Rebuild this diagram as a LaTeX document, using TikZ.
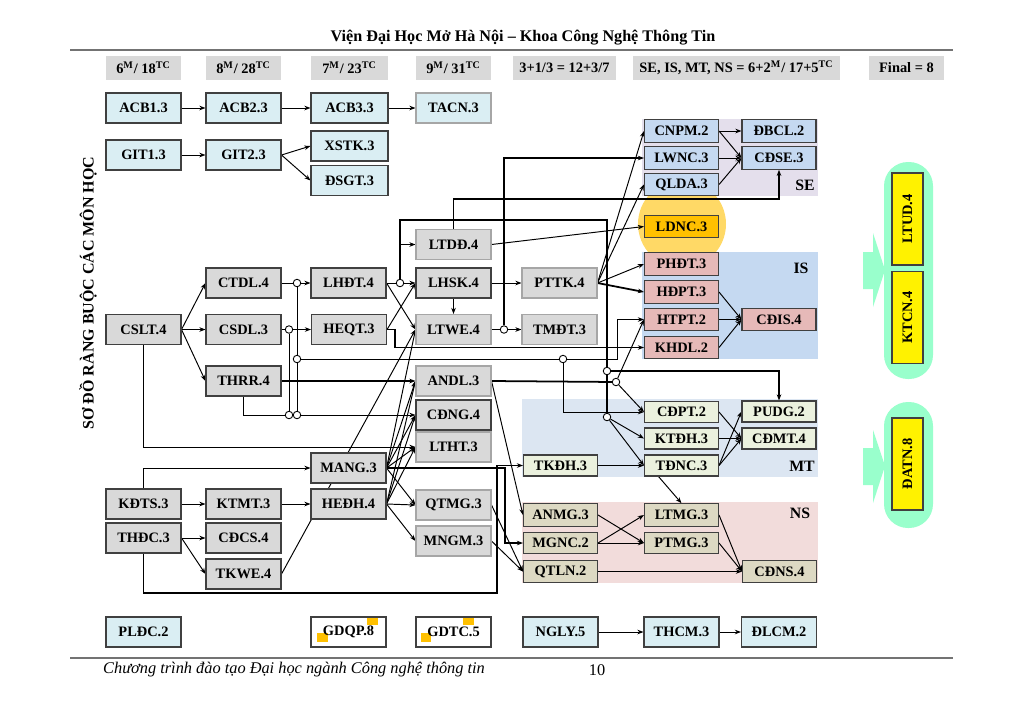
\documentclass[tikz,border=0pt]{standalone}
\usepackage{fontspec}
\setmainfont{Liberation Serif}
\usetikzlibrary{arrows.meta,calc}
\pgfdeclarelayer{bg}
\pgfdeclarelayer{lines}
\pgfsetlayers{bg,lines,main}
\definecolor{lblue}{HTML}{DAEEF3}
\definecolor{lgray}{HTML}{D9D9D9}
\definecolor{seblue}{HTML}{C5D9F1}
\definecolor{sebg}{HTML}{E4DFEC}
\definecolor{isbg}{HTML}{C5D9F1}
\definecolor{ispink}{HTML}{E6B9B8}
\definecolor{mtbg}{HTML}{DCE6F2}
\definecolor{mtgreen}{HTML}{EBF1DE}
\definecolor{nsbg}{HTML}{F2DCDB}
\definecolor{nstan}{HTML}{DDD9C3}
\definecolor{orng}{HTML}{FFC000}
\definecolor{halo}{HTML}{FFD966}
\definecolor{aqua}{HTML}{99FFCC}
\begin{document}
\begin{tikzpicture}[x=0.02cm, y=-0.02cm,
    box/.style={draw=black!75, line width=0.6pt, minimum width=1.5cm, minimum height=0.6cm, inner sep=0pt, font=\fontsize{8.2}{9}\selectfont\bfseries},
    sbox/.style={box, minimum width=1.48cm, minimum height=0.45cm},
    lite/.style={draw=black!35},
    hbox/.style={fill=lgray, minimum height=0.48cm, inner sep=0pt, font=\fontsize{8.2}{9}\selectfont\bfseries},
    ybox/.style={box, fill=yellow, rotate=90, minimum width=1.84cm, minimum height=0.62cm},
    dot/.style={circle, draw, fill=white, line width=0.5pt, inner sep=0pt, minimum size=0.15cm},
    arr/.style={line width=0.55pt, -{Stealth[length=3.5pt,width=2.6pt]}},
    thk/.style={line width=1pt},
    lbl/.style={font=\fontsize{9}{10}\selectfont\bfseries}]
    \def\top{50}
    \def\bot{658}
    \useasboundingbox (0,0) rectangle (1024,701);

% page
    \node[font=\fontsize{9.2}{11}\selectfont\bfseries] (title) at (523,38) {Viện Đại Học Mở Hà Nội – Khoa Công Nghệ Thông Tin};
    \node[anchor=west, font=\fontsize{9.3}{11}\selectfont\itshape] (foot) at (97,670) {Chương trình đào tạo Đại học ngành Công nghệ thông tin};
    \node[font=\fontsize{9.3}{11}\selectfont] (page) at (597,670) {10};
    \node[rotate=90, font=\fontsize{9.1}{10}\selectfont\bfseries] (side) at (88,293) {SƠ ĐỒ RÀNG BUỘC CÁC MÔN HỌC};
    \draw[black!55, line width=1.2pt] (70,\top) -- (953,\top);
    \draw[black!55, line width=1.2pt] (70,\bot) -- (953,\bot);

    % semesters
    \node[hbox, minimum width=1.5cm] (s1) at (143.5,68) {6\textsuperscript{M}/ 18\textsuperscript{TC}};
    \node[hbox, minimum width=1.5cm] (s2) at (243.5,68) {8\textsuperscript{M}/ 28\textsuperscript{TC}};
    \node[hbox, minimum width=1.54cm] (s3) at (349.5,68) {7\textsuperscript{M}/ 23\textsuperscript{TC}};
    \node[hbox, minimum width=1.5cm] (s4) at (453.5,68) {9\textsuperscript{M}/ 31\textsuperscript{TC}};
    \node[hbox, minimum width=2.06cm] (s5) at (564.5,68) {3+1/3 = 12+3/7};
    \node[hbox, minimum width=4.14cm] (s6) at (736.5,68) {SE, IS, MT, NS = 6+2\textsuperscript{M}/ 17+5\textsuperscript{TC}};
    \node[hbox, minimum width=1.5cm] (s7) at (906.5,68) {Final = 8};

    % blues
    \node[box, fill=lblue] (acba) at (143.5,108) {ACB1.3};
    \node[box, fill=lblue] (acbb) at (243.5,108) {ACB2.3};
    \node[box, fill=lblue, minimum width=1.54cm] (acbc) at (349.5,108) {ACB3.3};
    \node[box, lite, fill=lblue] (tacn) at (453.5,108) {TACN.3};
    \node[box, fill=lblue] (gita) at (143.5,155) {GIT1.3};
    \node[box, fill=lblue] (gitb) at (243.5,155) {GIT2.3};
    \node[box, fill=lblue, minimum width=1.54cm] (xstk) at (349.5,146) {XSTK.3};
    \node[box, fill=lblue, minimum width=1.54cm] (dsgt) at (349.5,180.5) {ĐSGT.3};

    % grays
    \node[box, fill=lgray] (cslt) at (143.5,329.5) {CSLT.4};
    \node[box, fill=lgray] (ctdl) at (243.5,283) {CTDL.4};
    \node[box, fill=lgray] (csdl) at (243.5,329.5) {CSDL.3};
    \node[box, fill=lgray] (thrr) at (243.5,381) {THRR.4};
    \node[box, fill=lgray] (lhdt) at (348.5,283) {LHĐT.4};
    \node[box, fill=lgray] (heqt) at (349,329.5) {HEQT.3};
    \node[box, lite, fill=lgray] (ltdd) at (453.5,244.5) {LTDĐ.4};
    \node[box, fill=lgray] (lhsk) at (453.5,283) {LHSK.4};
    \node[box, lite, fill=lgray] (ltwe) at (453.5,329.5) {LTWE.4};
    \node[box, lite, fill=lgray] (pttk) at (559.5,283) {PTTK.4};
    \node[box, lite, fill=lgray] (tmdt) at (559.5,329.5) {TMĐT.3};
    \node[box, lite, fill=lgray] (andl) at (453.5,381) {ANDL.3};
    \node[box, fill=lgray] (cdng) at (453.5,415) {CĐNG.4};
    \node[box, lite, fill=lgray] (ltht) at (453.5,447) {LTHT.3};
    \node[box, fill=lgray] (mang) at (348.5,468) {MANG.3};
    \node[box, fill=lgray] (hedh) at (348.5,504) {HEĐH.4};
    \node[box, fill=lgray] (kdts) at (143.5,504) {KĐTS.3};
    \node[box, fill=lgray] (thdc) at (143.5,538) {THĐC.3};
    \node[box, fill=lgray] (ktmt) at (243.5,504) {KTMT.3};
    \node[box, fill=lgray] (cdcs) at (243.5,538) {CĐCS.4};
    \node[box, fill=lgray] (tkwe) at (243.5,574) {TKWE.4};
    \node[box, lite, fill=lgray] (qtmg) at (453.5,505) {QTMG.3};
    \node[box, lite, fill=lgray] (mngm) at (453.5,541) {MNGM.3};

    % SE
    \node[sbox, fill=seblue] (cnpm) at (681.5,131) {CNPM.2};
    \node[sbox, fill=seblue] (lwnc) at (681.5,158) {LWNC.3};
    \node[sbox, fill=seblue] (qlda) at (681.5,184.5) {QLDA.3};
    \node[sbox, fill=seblue] (dbcl) at (779,131) {ĐBCL.2};
    \node[sbox, fill=seblue] (cdse) at (779,158) {CĐSE.3};
    \node[lbl] (tse) at (805,185) {SE};
    \node[sbox, fill=orng] (ldnc) at (681.5,226.5) {LDNC.3};

    % IS
    \node[sbox, fill=ispink] (phdt) at (681.5,264) {PHĐT.3};
    \node[sbox, fill=ispink] (hdpt) at (681.5,292) {HĐPT.3};
    \node[sbox, fill=ispink] (htpt) at (681.5,319.5) {HTPT.2};
    \node[sbox, fill=ispink] (khdl) at (681.5,347.5) {KHDL.2};
    \node[sbox, fill=ispink] (cdis) at (779,319.5) {CĐIS.4};
    \node[lbl] (tis) at (801,268) {IS};

    % MT
    \node[sbox, fill=mtgreen, minimum height=0.42cm] (cdpt) at (681.5,412) {CĐPT.2};
    \node[sbox, fill=mtgreen, minimum height=0.42cm] (ktdh) at (681.5,438.5) {KTĐH.3};
    \node[sbox, fill=mtgreen, minimum height=0.42cm] (tdnc) at (681.5,465.5) {TĐNC.3};
    \node[sbox, fill=mtgreen, minimum height=0.42cm] (pudg) at (779,411.5) {PUDG.2};
    \node[sbox, fill=mtgreen, minimum height=0.42cm] (cdmt) at (779,438.5) {CĐMT.4};
    \node[sbox, fill=mtgreen, minimum height=0.42cm] (tkdh) at (560.5,465.5) {TKĐH.3};
    \node[lbl] (tmt) at (802,466) {MT};

    % NS
    \node[sbox, fill=nstan] (anmg) at (560.5,515) {ANMG.3};
    \node[sbox, fill=nstan, minimum height=0.42cm] (mgnc) at (560.5,543) {MGNC.2};
    \node[sbox, fill=nstan] (qtln) at (560.5,571.5) {QTLN.2};
    \node[sbox, fill=nstan] (ltmg) at (681.5,515) {LTMG.3};
    \node[sbox, fill=nstan, minimum height=0.42cm] (ptmg) at (681.5,543) {PTMG.3};
    \node[sbox, fill=nstan] (cdns) at (779.5,571.5) {CĐNS.4};
    \node[lbl] (tns) at (800,513) {NS};

    % bottom row
    \node[box, fill=lblue] (pldc) at (143.5,632) {PLĐC.2};
    \node[box] (gdqp) at (348.5,632) {GDQP.8};
    \node[box] (gdtc) at (453.5,632) {GDTC.5};
    \node[box, fill=lblue] (ngly) at (560.5,632) {NGLY.5};
    \node[box, fill=lblue] (thcm) at (681.5,632) {THCM.3};
    \node[box, fill=lblue] (dlcm) at (779,632) {ĐLCM.2};

    % final
    \node[ybox] (ltud) at (907.5,219) {LTUD.4};
    \node[ybox] (ktcn) at (907.5,317.5) {KTCN.4};
    \node[ybox] (datn) at (907.5,464) {ĐATN.8};

    % dots
    \node[dot] (dA) at (297,283) {};
    \node[dot] (dB) at (289,329.5) {};
    \node[dot] (dC) at (297,359) {};
    \node[dot] (dD) at (297,415) {};
    \node[dot] (dE) at (289,415) {};
    \node[dot] (dF) at (400,283) {};
    \node[dot] (dG) at (504,329.5) {};
    \node[dot] (dH) at (563,359) {};
    \node[dot] (dI) at (607,371) {};
    \node[dot] (dJ) at (616,382) {};
    \node[dot] (dK) at (607,417) {};

    \begin{pgfonlayer}{bg}
    \fill[white] (0,0) rectangle (1024,701);
    \fill[halo] (682,224) circle[radius=0.88cm];
    \fill[sebg] (642,119) rectangle (818,196);
    \fill[isbg] (642,252) rectangle (818,359);
    \fill[mtbg] (522,399) rectangle (818,477);
    \fill[nsbg] (522,502) rectangle (818,583);
    \fill[aqua, rounded corners=0.48cm] (884,162) rectangle (933,379);
    \fill[aqua, rounded corners=0.48cm] (884,402) rectangle (933,528);
    \fill[aqua] (863,252) -- (873,252) -- (873,233) -- (885,270) -- (873,307) -- (873,289) -- (863,289) -- cycle;
    \fill[aqua] (863,448) -- (873,448) -- (873,430) -- (885,466) -- (873,503) -- (873,485) -- (863,485) -- cycle;
    \fill[orng] (367,617) rectangle (378,625);
    \fill[orng] (317,633) rectangle (328,642);
    \fill[orng] (463,617) rectangle (474,625);
    \fill[orng] (421,633) rectangle (431,642);
    \end{pgfonlayer}

    \begin{pgfonlayer}{lines}
    % top
    \draw[arr] (acba.east) -- (acbb.west);
    \draw[arr] (acbb.east) -- (acbc.west);
    \draw[arr] (acbc.east) -- (tacn.west);
    \draw[arr] (gita.east) -- (gitb.west);
    \draw[arr] (gitb.east) -- (xstk.west);
    \draw[arr] (gitb.east) -- (dsgt.west);
    % core
    \draw[arr] (cslt.east) -- (ctdl.west);
    \draw[arr] (cslt.east) -- (csdl.west);
    \draw[arr] (cslt.east) -- (thrr.west);
    \draw (ctdl.east) -- (dA);
    \draw[arr] (dA) -- (lhdt.west);
    \draw (csdl.east) -- (dB);
    \draw[arr] (dB) -- (heqt.west);
    \draw (dA) -- (dC);
    \draw (dC) -- (dD);
    \draw (dB) -- (dE);
    \draw (thrr.south) |- (dE);
    \draw (dE) -- (dD);
    \draw[arr] (dD) -- (cdng.west);
    \draw (dC) -- (dH);
    \draw[arr] (dH) -- (617,359) -- (617,319.5) -- (htpt.west);
    \draw[arr] (dH) |- (cdpt.west);
    \draw[arr, thk] (thrr.east) -- (andl.west);
    \draw[arr] (cslt.south) |- (ltht.west);
    \draw (lhdt.east) -- (dF);
    \draw[arr] (dF) -- (lhsk.west);
    \draw[arr] (dF) |- (ltdd.west);
    \draw[thk] (dF) -- (400,220) -| (dI);
    \draw[thk] (dI) -- (dK);
    \draw[arr, thk] (dI) -| (pudg.north);
    \draw[arr] (dK) -- (ktdh.west);
    \draw[arr] (dK) -- (tdnc.west);
    \draw[arr] (lhdt.east) -- (ltwe.west);
    \draw[arr] (heqt.east) -- (lhsk.west);
    \draw[arr, thk] (heqt.east) -- (395,329.5) |- (khdl.west);
    \draw[arr, thk] (ltdd.north) -- (453.5,199) -| (cdse.south);
    \draw[arr] (ltdd.east) -- (ldnc.west);
    \draw[arr] (lhsk.east) -- (pttk.west);
    \draw[arr] (lhsk.south) -- (ltwe.north);
    \draw (ltwe.east) -- (dG);
    \draw[arr] (dG) -- (tmdt.west);
    \draw[arr, thk] (dG) |- (lwnc.west);
    \draw[arr] (pttk.east) -- (cnpm.west);
    \draw[arr] (pttk.east) -- (qlda.west);
    \draw[arr] (pttk.east) -- (phdt.west);
    \draw[arr, thk] (pttk.east) -- (hdpt.west);
    % SE, IS
    \draw[arr] (cnpm.east) -- (dbcl.west);
    \draw[arr] (cnpm.east) -- (cdse.west);
    \draw[arr] (lwnc.east) -- (cdse.west);
    \draw[arr] (qlda.east) -- (cdse.west);
    \draw[arr] (hdpt.east) -- (cdis.west);
    \draw[arr, thk] (htpt.east) -- (cdis.west);
    \draw[arr] (khdl.east) -- (cdis.west);
    \draw[thk] (andl.east) -- (dJ);
    \draw[arr] (dJ) -- (htpt.west);
    \draw[arr] (dJ) -- (cdpt.west);
    \draw[arr] (andl.east) -- (anmg.west);
    % MT
    \draw[arr] (cdpt.east) -- (cdmt.west);
    \draw[arr] (ktdh.east) -- (cdmt.west);
    \draw[arr] (tdnc.east) -- (pudg.west);
    \draw[arr] (tdnc.east) -- (cdmt.west);
    \draw[arr] (tkdh.east) -- (tdnc.west);
    \draw[arr] ($(tdnc.south)+(-23,0)$) -- (ltmg.north);
    % NS
    \draw[arr] (anmg.east) -- (ptmg.west);
    \draw[arr] (mgnc.east) -- (ltmg.west);
    \draw[arr] (mgnc.east) -- (ptmg.west);
    \draw[arr] (ltmg.east) -- (cdns.west);
    \draw[arr] (ptmg.east) -- (cdns.west);
    \draw[arr] (qtln.east) -- (cdns.west);
    % lower
    \draw[arr] (kdts.east) -- (ktmt.west);
    \draw[arr] (ktmt.east) -- (hedh.west);
    \draw[arr] (kdts.north) |- (mang.west);
    \draw[arr] (thdc.east) -- (cdcs.west);
    \draw[arr] (thdc.east) -- (tkwe.west);
    \draw[arr, thk] (thdc.south) -- (143.5,593) -| (497,465.5) -- (tkdh.west);
    \draw[arr, thk] (mang.east) -- (505,468) |- (mgnc.west);
    \draw[arr] (tkwe.east) -- (ltwe.west);
    \draw[arr] (mang.east) -- (ltwe.west);
    \draw[arr] (mang.east) -- (andl.west);
    \draw[arr] (mang.east) -- (cdng.west);
    \draw[arr] (mang.east) -- (ltht.west);
    \draw[arr] (mang.east) -- (qtmg.west);
    \draw[arr] (hedh.east) -- (andl.west);
    \draw[arr] (hedh.east) -- (cdng.west);
    \draw[arr] (hedh.east) -- (ltht.west);
    \draw[arr] (hedh.east) -- (qtmg.west);
    \draw[arr] (hedh.east) -- (mngm.west);
    \draw[arr] (qtmg.east) -- (qtln.west);
    \draw[arr] (mngm.east) -- (qtln.west);
    % bottom
    \draw[arr] (ngly.east) -- (thcm.west);
    \draw[arr] (thcm.east) -- (dlcm.west);
    \end{pgfonlayer}
\end{tikzpicture}
\end{document}
